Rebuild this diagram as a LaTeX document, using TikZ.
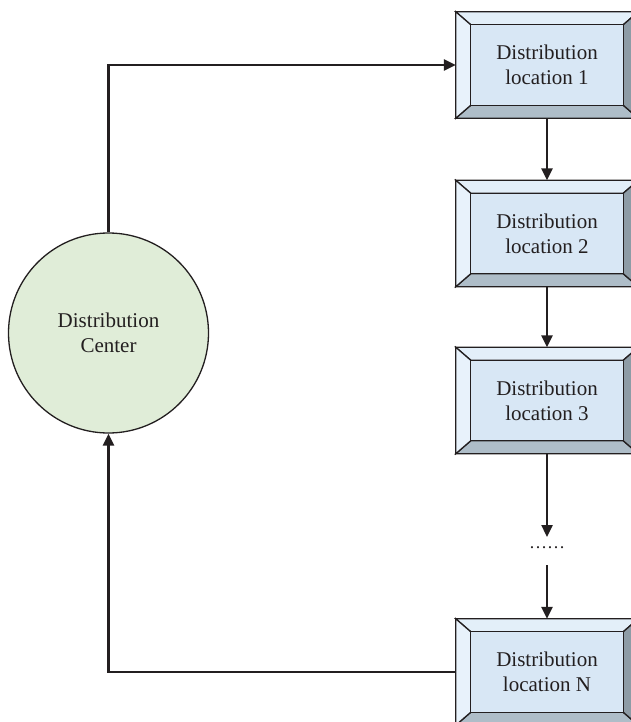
\documentclass[tikz,border=0pt]{standalone}
\usepackage{fontspec}
\setmainfont{Liberation Serif}
\usetikzlibrary{arrows.meta,calc}
\definecolor{ink}{HTML}{231F20}
\definecolor{facec}{HTML}{D8E7F5}
\definecolor{topc}{HTML}{E3EFF9}
\definecolor{leftc}{HTML}{E8F2FB}
\definecolor{botc}{HTML}{AEBDC8}
\definecolor{rightc}{HTML}{8E9CA6}
\definecolor{circc}{HTML}{E0EDD8}
\tikzset{
  outerbox/.style={rectangle,draw=none,inner sep=0pt,minimum width=182pt,minimum height=106pt},
  bev/.style={draw=ink,line width=1.3pt,line join=miter},
  lbl/.style={font=\fontsize{21pt}{25pt}\selectfont,text=ink,align=center},
  conn/.style={draw=ink,line width=2.4pt,-{Triangle[length=12pt,width=11pt]}},
  center/.style={circle,draw=ink,line width=1.3pt,fill=circc,minimum size=200pt,inner sep=0pt}
}
\newcommand\bevelbox[3]{%
  \node[outerbox] (#1) at (547,#2) {};
  \path[bev,fill=topc] (#1.north west) -- (#1.north east) -- ([shift={(-15,13)}]#1.north east) -- ([shift={(15,13)}]#1.north west) -- cycle;
  \path[bev,fill=botc] (#1.south west) -- (#1.south east) -- ([shift={(-15,-13)}]#1.south east) -- ([shift={(15,-13)}]#1.south west) -- cycle;
  \path[bev,fill=leftc] (#1.north west) -- (#1.south west) -- ([shift={(15,-13)}]#1.south west) -- ([shift={(15,13)}]#1.north west) -- cycle;
  \path[bev,fill=rightc] (#1.north east) -- (#1.south east) -- ([shift={(-15,-13)}]#1.south east) -- ([shift={(-15,13)}]#1.north east) -- cycle;
  \path[bev,fill=facec] ([shift={(15,13)}]#1.north west) rectangle ([shift={(-15,-13)}]#1.south east);
  \path[bev] (#1.north west) rectangle (#1.south east);
  \node[lbl] (#1t) at (#1.center) {#3};
}
\begin{document}
\begin{tikzpicture}[x=1pt,y=-1pt]
\useasboundingbox (0,0) rectangle (631,722);
\clip (0,0) rectangle (631,722);
\bevelbox{b1}{65}{Distribution\\location 1}
\bevelbox{b2}{233.5}{Distribution\\location 2}
\bevelbox{b3}{400.5}{Distribution\\location 3}
\bevelbox{bN}{672}{Distribution\\location N}
\node[center] (dc) at (108.5,333) {};
\node[lbl] (dct) at (dc.center) {Distribution\\Center};
\coordinate (d1) at (547,537);
\node[font=\fontsize{18pt}{18pt}\selectfont,text=ink,inner sep=0pt] (dots) at (547,548) {……};
\coordinate (d2) at (547,565);
\draw[conn] (dc.north) |- (b1.west);
\draw[conn] (b1.south) -- (b2.north);
\draw[conn] (b2.south) -- (b3.north);
\draw[conn] (b3.south) -- (d1);
\draw[conn] (d2) -- (bN.north);
\draw[conn] (bN.west) -| (dc.south);
\end{tikzpicture}
\end{document}
